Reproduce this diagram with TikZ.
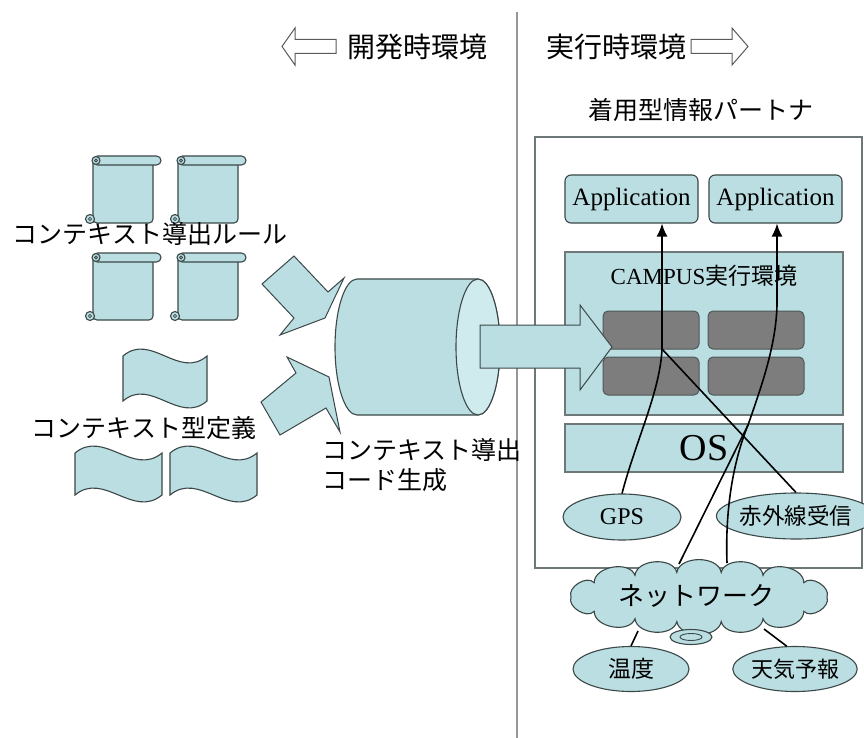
\documentclass[tikz,border=0pt]{standalone}
\usepackage{fontspec}
\setmainfont{Liberation Serif}
\newfontfamily\jp{Noto Sans CJK JP}
\usetikzlibrary{shapes.geometric,arrows.meta}
\definecolor{lb}{RGB}{186,222,226}
\definecolor{lbf}{RGB}{208,235,238}
\definecolor{edge}{RGB}{60,72,72}
\definecolor{pedge}{RGB}{110,120,120}
\definecolor{dg}{RGB}{125,125,125}
\definecolor{dge}{RGB}{80,88,88}
\definecolor{divc}{RGB}{150,150,150}
\definecolor{harrow}{RGB}{90,90,90}
\tikzset{
  bl/.style={fill=lb, draw=edge, line width=1.1pt},
  appbox/.style={bl, rounded corners=6pt, minimum width=133pt, minimum height=48pt, inner sep=0pt, font=\fontsize{25}{28}\selectfont},
  panel/.style={fill=lb, draw=pedge, line width=1.2pt, inner sep=0pt},
  darkbox/.style={fill=dg, draw=dge, line width=1pt, rounded corners=5pt, minimum width=96pt, minimum height=38pt, inner sep=0pt},
  oval/.style={bl, ellipse, minimum width=118pt, minimum height=46pt, inner sep=0pt},
  conn/.style={line width=1.6pt, black},
  jtext/.style={font=\jp\fontsize{25}{30}\selectfont, inner sep=0pt},
  htext/.style={font=\jp\fontsize{28}{32}\selectfont, inner sep=0pt},
  hollow/.style={draw=harrow, line width=1pt, fill=white},
  puff/.style={bend left=80},
  scrollpic/.pic={
    \draw[bl] (8,8) -- (68,8) [rounded corners=4pt] -- (68,68) -- (8,68) [sharp corners] -- cycle;
    \draw[bl, rounded corners=4.5pt] (8,1) rectangle (76,10);
    \draw[bl] (11,5.5) circle[radius=4];
    \draw[edge, line width=0.8pt] (11,5.5) circle[radius=1.5];
    \draw[bl] (5,64) circle[radius=4.5];
    \draw[edge, line width=0.8pt] (5,64) circle[radius=1.6];
  }
}
\begin{document}
\begin{tikzpicture}[x=1pt,y=-1pt]
\useasboundingbox[fill=white] (0,0) rectangle (864,738);

% divider
\draw[divc, line width=2pt] (517,12) -- (517,738);

% header arrows and texts
\draw[hollow] (282,46.5) -- (295,28) -- (295,39.5) -- (336,39.5) -- (336,53.5) -- (295,53.5) -- (295,65) -- cycle;
\draw[hollow] (748,46.5) -- (732,28) -- (732,39.5) -- (691,39.5) -- (691,53.5) -- (732,53.5) -- (732,65) -- cycle;
\node[htext] (devt) at (417,47) {開発時環境};
\node[htext] (runt) at (616,47) {実行時環境};
\node[jtext] (wtitle) at (701,110) {着用型情報パートナ};

% wearable partner outer box
\node[draw=pedge, line width=1.4pt, fill=white, minimum width=327pt, minimum height=431pt, inner sep=0pt] (wear) at (698.5,352.5) {};

% applications
\node[appbox] (app1) at (631.5,199) {Application};
\node[appbox] (app2) at (775.5,199) {Application};

% CAMPUS runtime
\node[panel, minimum width=278pt, minimum height=163pt] (campus) at (704,333.5) {};
\node[font=\fontsize{23}{28}\selectfont, inner sep=0pt] (campuslbl) at (704,276) {CAMPUS{\jp 実行環境}};
\node[darkbox] (d1) at (651,330) {};
\node[darkbox] (d2) at (756,330) {};
\node[darkbox] (d3) at (651,376) {};
\node[darkbox] (d4) at (756,376) {};

% OS
\node[panel, minimum width=278pt, minimum height=48pt, font=\fontsize{38}{42}\selectfont] (os) at (704,448) {OS};

% sensors
\node[oval, font=\fontsize{24}{28}\selectfont] (gps) at (622,517) {GPS};
\node[oval, font=\jp\fontsize{22.5}{26}\selectfont] (ir) at (796,516) {赤外線受信};

% network cloud
\draw[bl] (571,597) to[puff] (594.2,582.7) to[puff] (635,575.3) to[puff] (676.8,572.4)
  to[puff] (721.2,572.4) to[puff] (763,575.3) to[puff] (803.8,582.7) to[puff] (827,597)
  to[puff] (803.8,611.3) to[puff] (763,618.7) to[puff] (721.2,621.6) to[puff] (676.8,621.6)
  to[puff] (635,618.7) to[puff] (594.2,611.3) to[puff] (571,597) -- cycle;
\node[font=\jp\fontsize{26}{30}\selectfont, inner sep=0pt] (net) at (696,596) {ネットワーク};
\draw[bl] (691,637) ellipse[x radius=21, y radius=7.5];
\draw[edge, line width=0.9pt] (691,637) ellipse[x radius=11, y radius=3.5];

\node[oval, minimum width=116pt, minimum height=45pt, font=\jp\fontsize{23}{26}\selectfont] (ondo) at (631,669) {温度};
\node[oval, minimum width=116pt, minimum height=45pt, font=\jp\fontsize{22}{26}\selectfont] (tenki) at (795,669) {天気予報};

% cylinder
\draw[bl] (357,279) -- (478,279) arc[start angle=-90, end angle=90, x radius=22, y radius=68] -- (357,415) arc[start angle=90, end angle=270, x radius=22, y radius=68] -- cycle;
\draw[bl, fill=lbf] (478,347) ellipse[x radius=22, y radius=68];

% input arrows
\draw[bl, line width=1pt] (262,284) -- (294,256) -- (328,292) -- (344,278) -- (325,318) -- (280,335) -- (294,318) -- cycle;
\draw[bl, line width=1pt] (261,402) -- (296,373) -- (287,357) -- (329,377) -- (340,432) -- (326,408) -- (280,435) -- cycle;

% big output arrow
\draw[bl, line width=1pt] (480,325) -- (580,325) -- (580,305) -- (612,347) -- (580,390) -- (580,368) -- (480,368) -- cycle;

% connectors
\coordinate (j1) at (662,349);
\coordinate (j2) at (748,425);
\coordinate (j3) at (777,305);
\coordinate (n1) at (679,564);
\coordinate (n2) at (727,563);
\coordinate (n3) at (638,631);
\coordinate (n4) at (764,629);
\draw[conn] (gps.north) .. controls (636,440) and (660,392) .. (j1);
\draw[conn] (ir.north) -- (j1);
\draw[conn, -{Latex[length=13pt,width=11pt]}] (j1) -- (j1 |- app1.south);
\draw[conn] (n1) -- (j2);
\draw[conn] (n2) .. controls (725,510) and (733,462) .. (j2);
\draw[conn] (j2) .. controls (762,385) and (776,345) .. (j3);
\draw[conn, -{Latex[length=13pt,width=11pt]}] (j3) -- (j3 |- app2.south);
\draw[conn] (n3) -- (ondo.north);
\draw[conn] (n4) -- (tenki.110);

% scrolls
\pic at (85,155) {scrollpic};
\pic at (170,155) {scrollpic};
\pic at (85,252) {scrollpic};
\pic at (170,252) {scrollpic};
\node[jtext] (rules) at (150,234) {コンテキスト導出ルール};

% wave flags
\draw[bl] (123,356) .. controls (151,332) and (179,380) .. (207,356) -- (207,401) .. controls (179,425) and (151,377) .. (123,401) -- cycle;
\draw[bl] (75,453) .. controls (104,429) and (133,477) .. (162,453) -- (162,495) .. controls (133,519) and (104,471) .. (75,495) -- cycle;
\draw[bl] (170,453) .. controls (199,429) and (228,477) .. (257,453) -- (257,495) .. controls (228,519) and (199,471) .. (170,495) -- cycle;
\node[jtext] (types) at (144,428) {コンテキスト型定義};

% code generation label
\node[jtext, align=left, anchor=west] (codegen) at (322,465) {コンテキスト導出\\コード生成};
\end{tikzpicture}
\end{document}
